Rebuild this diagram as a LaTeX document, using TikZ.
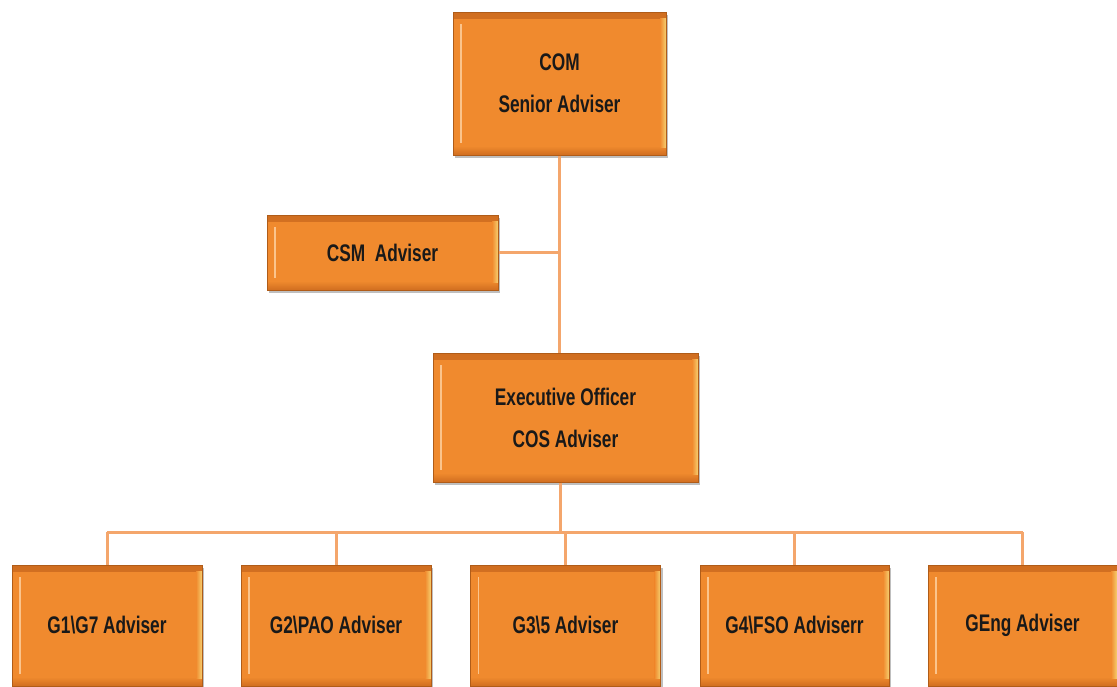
\documentclass[tikz,border=0pt]{standalone}
\usepackage{fontspec}
\setmainfont{Liberation Sans}[FakeStretch=0.72]
\usetikzlibrary{shadows}
\definecolor{boxfill}{HTML}{F08A2E}
\definecolor{boxedge}{HTML}{B05C18}
\definecolor{boxdark}{HTML}{D06E20}
\definecolor{boxlight}{HTML}{FBC48C}
\definecolor{boxhigh}{HTML}{F6D070}
\definecolor{linkcol}{HTML}{F4A66C}
\tikzset{
  orgbox/.style={draw=boxedge, line width=1pt, fill=boxfill, inner sep=0pt,
    align=center, font=\fontsize{24}{42}\selectfont\bfseries, text=black!90,
    drop shadow={shadow xshift=2pt, shadow yshift=-3pt, opacity=0.25, fill=black},
    path picture={
      \fill[top color=boxdark, bottom color=boxfill]
        (path picture bounding box.north west) rectangle
        ([yshift=-6pt]path picture bounding box.north east);
      \fill[top color=boxfill, bottom color=boxdark]
        ([yshift=9pt]path picture bounding box.south west) rectangle
        (path picture bounding box.south east);
      \fill[left color=boxfill, right color=boxhigh]
        ([xshift=-6pt,yshift=-6pt]path picture bounding box.north east) rectangle
        ([yshift=8pt]path picture bounding box.south east);
      \draw[boxlight, line width=1.5pt]
        ([xshift=8pt,yshift=-12pt]path picture bounding box.north west) --
        ([xshift=8pt,yshift=12pt]path picture bounding box.south west);
    }},
  link/.style={draw=linkcol, line width=3pt}
}
\begin{document}
\begin{tikzpicture}[x=1pt,y=-1pt]
\useasboundingbox (0,0) rectangle (1117,686);
\node[orgbox, minimum width=213pt, minimum height=143pt] (com) at (559.5,83.5) {COM\\Senior Adviser};
\node[orgbox, minimum width=231pt, minimum height=75pt] (csm) at (382.5,252.5) {CSM\ \ Adviser};
\node[orgbox, minimum width=265pt, minimum height=129pt] (exec) at (565.5,417.5) {Executive Officer\\COS Adviser};
\node[orgbox, minimum width=190pt, minimum height=121pt] (g1) at (107,625.5) {G1\textbackslash G7 Adviser};
\node[orgbox, minimum width=190pt, minimum height=121pt] (g2) at (336,625.5) {G2\textbackslash PAO Adviser};
\node[orgbox, minimum width=190pt, minimum height=121pt] (g3) at (565.5,625.5) {G3\textbackslash 5 Adviser};
\node[orgbox, minimum width=189pt, minimum height=121pt] (g4) at (794.5,625.5) {G4\textbackslash FSO Adviserr};
\node[orgbox, minimum width=189pt, minimum height=121pt] (geng) at (1022.5,625.5) {GEng Adviser};
\coordinate (bus) at (560,532);
\draw[link] (com.south) -- (com.south |- exec.north);
\draw[link] (csm.east) -- (csm.east -| com.south);
\draw[link] (exec.south -| bus) -- (bus);
\draw[link] (bus -| g1.north) -- (bus -| geng.north);
\foreach \n in {g1,g2,g3,g4,geng}{
  \draw[link] (\n.north) -- (\n.north |- bus);
}
\end{tikzpicture}
\end{document}
